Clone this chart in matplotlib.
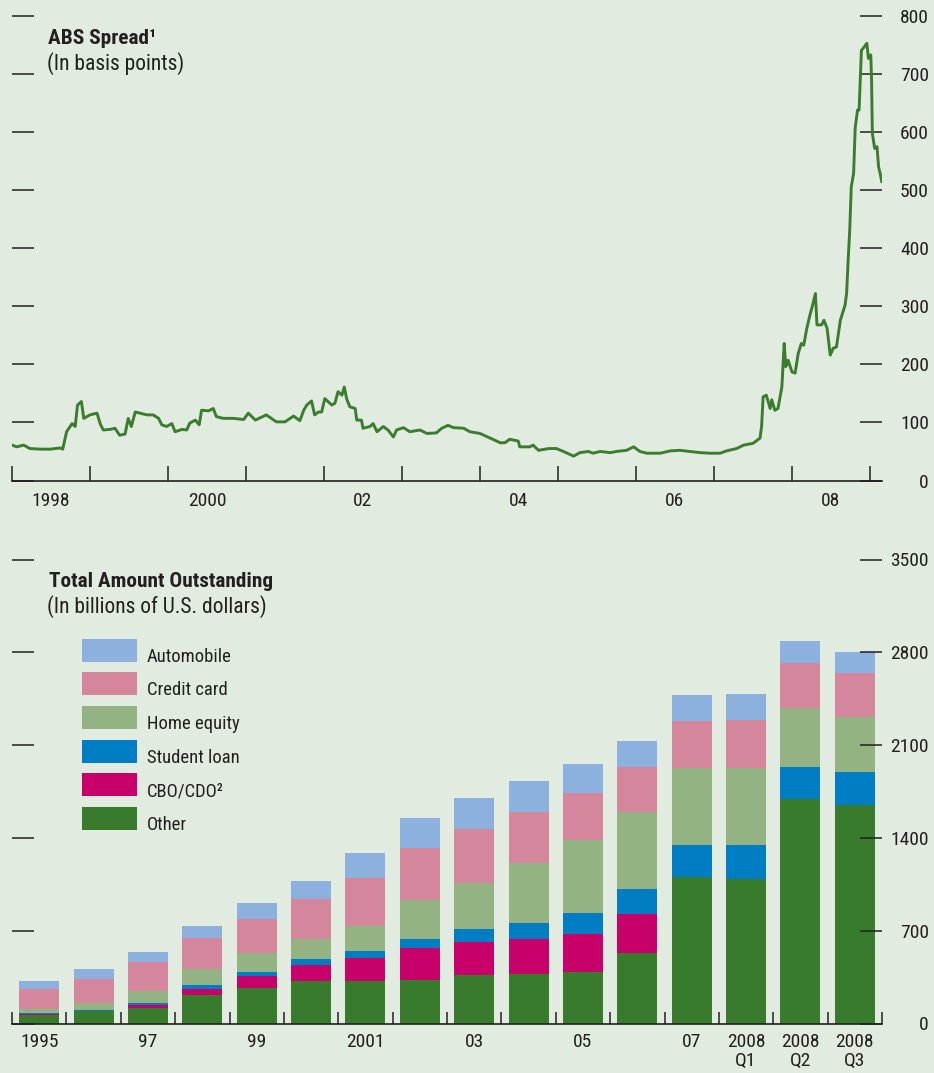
import matplotlib.pyplot as plt
from matplotlib.patches import Rectangle

plt.rcParams['font.family'] = ['Roboto Condensed', 'Liberation Sans Narrow', 'Roboto', 'DejaVu Sans']

bg = '#e2ebe0'
ink = '#231f20'

# ABS spread, basis points (fractional years)
spread_t = [1998.00, 1998.06, 1998.15, 1998.23, 1998.36, 1998.49, 1998.62, 1998.65, 1998.70, 1998.77,
            1998.81, 1998.84, 1998.89, 1998.92, 1999.00, 1999.09, 1999.13, 1999.17, 1999.26, 1999.32,
            1999.38, 1999.45, 1999.49, 1999.53, 1999.58, 1999.64, 1999.73, 1999.81, 1999.88, 1999.92,
            1999.98, 2000.05, 2000.09, 2000.18, 2000.24, 2000.28, 2000.35, 2000.40, 2000.43, 2000.52,
            2000.58, 2000.62, 2000.71, 2000.84, 2000.97, 2001.03, 2001.12, 2001.26, 2001.39, 2001.50,
            2001.61, 2001.69,
            2001.74, 2001.78, 2001.84, 2001.88, 2001.93, 2001.97, 2002.01, 2002.10, 2002.14, 2002.18,
            2002.23, 2002.26, 2002.29, 2002.33, 2002.40, 2002.42, 2002.48, 2002.50, 2002.59, 2002.63,
            2002.68, 2002.76, 2002.82, 2002.89, 2002.93, 2003.02, 2003.10, 2003.23, 2003.32, 2003.44,
            2003.51, 2003.59, 2003.66, 2003.79, 2003.87, 2004.00, 2004.13, 2004.26, 2004.32, 2004.38,
            2004.49, 2004.51, 2004.64, 2004.68, 2004.75, 2004.88, 2004.98, 2005.07, 2005.20, 2005.28,
            2005.39, 2005.45, 2005.54,
            2005.67, 2005.75, 2005.88, 2005.97, 2006.05, 2006.14, 2006.31, 2006.44, 2006.56, 2006.69,
            2006.82, 2006.95, 2007.08, 2007.16, 2007.29, 2007.38, 2007.50, 2007.59, 2007.61, 2007.63,
            2007.67, 2007.72, 2007.74, 2007.78, 2007.82, 2007.87, 2007.90, 2007.92, 2007.95, 2008.00,
            2008.04, 2008.08, 2008.12, 2008.15, 2008.19, 2008.23, 2008.27, 2008.30, 2008.32, 2008.38,
            2008.41, 2008.45, 2008.49, 2008.53, 2008.57, 2008.62, 2008.68, 2008.70, 2008.72, 2008.74,
            2008.76, 2008.79, 2008.81, 2008.84, 2008.86, 2008.89, 2008.91, 2008.96, 2008.98, 2009.01,
            2009.02, 2009.03, 2009.06, 2009.09, 2009.11, 2009.13, 2009.15]
spread_v = [61, 58, 61, 55, 54, 54, 56, 54, 84, 98,
            93, 130, 136, 107, 113, 116, 98, 87, 88, 90,
            78, 80, 107, 93, 118, 116, 113, 113, 107, 96,
            93, 98, 84, 88, 87, 99, 104, 96, 121, 120,
            124, 110, 107, 107, 105, 116, 104, 113, 101, 101,
            111, 103,
            121, 130, 137, 113, 118, 118, 141, 130, 133, 153,
            147, 161, 141, 127, 124, 104, 104, 90, 93, 98,
            84, 93, 87, 75, 87, 91, 84, 87, 81, 82,
            90, 95, 91, 90, 84, 81, 73, 65, 65, 71,
            68, 58, 58, 61, 52, 55, 55, 50, 42, 48,
            50, 47, 50,
            48, 50, 52, 58, 50, 47, 47, 51, 52, 50,
            48, 47, 47, 51, 55, 61, 64, 73, 93, 144,
            147, 124, 139, 121, 124, 161, 236, 196, 207, 187,
            185, 219, 236, 233, 262, 285, 305, 322, 268, 268,
            276, 262, 216, 228, 230, 276, 302, 322, 380, 431,
            506, 529, 607, 638, 638, 741, 744, 753, 727, 733,
            690, 598, 572, 575, 540, 529, 515]

# Total amount outstanding, billions of U.S. dollars
periods = ['1995', '', '97', '', '99', '', '2001', '', '03', '', '05', '', '07',
           '2008\nQ1', '2008\nQ2', '2008\nQ3']
other = [64, 97, 119, 215, 270, 321, 321, 331, 366, 376, 391, 532, 1103, 1092, 1696, 1648]
cbo_cdo = [10, 0, 18, 45, 91, 120, 175, 241, 251, 261, 286, 296, 0, 0, 0, 0]
student = [3, 7, 18, 30, 30, 46, 51, 65, 96, 121, 157, 187, 243, 254, 239, 249]
home = [32, 53, 90, 121, 141, 150, 191, 297, 347, 453, 552, 583, 584, 584, 447, 415]
credit = [151, 179, 221, 236, 256, 302, 362, 392, 407, 387, 353, 337, 352, 362, 337, 332]
auto = [60, 75, 73, 88, 121, 136, 186, 224, 234, 231, 218, 196, 196, 193, 166, 158]

series = [('Other', other, '#387b2c'),
          ('CBO/CDO²', cbo_cdo, '#c8006a'),
          ('Student loan', student, '#007dc3'),
          ('Home equity', home, '#93b382'),
          ('Credit card', credit, '#d4879c'),
          ('Automobile', auto, '#8cb1df')]

W, H = 934, 1073
fig = plt.figure(figsize=(W / 100, H / 100), dpi=100, facecolor=bg)


def px_axes(x0, y0, x1, y1):
    return fig.add_axes([x0 / W, 1 - y1 / H, (x1 - x0) / W, (y1 - y0) / H], facecolor=bg)


def style(ax):
    for s in ['top', 'left', 'right']:
        ax.spines[s].set_visible(False)
    ax.spines['bottom'].set_color(ink)
    ax.spines['bottom'].set_linewidth(1.2)
    ax.tick_params(axis='y', which='major', left=True, right=True, labelleft=False, labelright=True,
                   direction='in', length=15.8, width=1.1, color=ink, labelsize=14,
                   labelcolor=ink, pad=33.8)
    ax.tick_params(axis='x', which='major', direction='in', length=11, width=1.1, color=ink,
                   labelbottom=False)
    ax.tick_params(axis='x', which='minor', length=0, labelsize=14, labelcolor=ink)
    for t in ax.yaxis.get_major_ticks():
        t.label2.set_horizontalalignment('right')


# top panel: spread line
ax1 = px_axes(12, 16, 882, 480.5)
ax1.plot(spread_t, spread_v, color='#3a7d2c', lw=2.1, solid_joinstyle='round')
ax1.set_xlim(1998.0, 1998.0 + 870 / 78)
ax1.set_ylim(0, 800)
ax1.set_yticks(range(0, 801, 100))
ax1.set_xticks(range(1998, 2010))
ax1.set_xticks([1998.5, 2000.5, 2002.5, 2004.5, 2006.5, 2008.5], minor=True)
ax1.set_xticklabels(['1998', '2000', '02', '04', '06', '08'], minor=True)
style(ax1)
ax1.tick_params(axis='x', which='minor', pad=8)

fig.text(48 / W, 1 - 43.7 / H, 'ABS Spread¹', fontsize=15.3, fontweight='bold', color=ink,
         va='baseline')
fig.text(47 / W, 1 - 69.5 / H, '(In basis points)', fontsize=15.5, color=ink, va='baseline')

# bottom panel: stacked bars
ax2 = px_axes(12, 559.5, 882, 1023.5)
xs = list(range(len(periods)))
base = [0] * len(periods)
for name, vals, col in series:
    ax2.bar(xs, vals, bottom=base, width=0.736, color=col, linewidth=0)
    base = [b + v for b, v in zip(base, vals)]
ax2.set_xlim(-0.5, 15.5)
ax2.set_ylim(0, 3500)
ax2.set_yticks(range(0, 3501, 700))
ax2.set_xticks([i - 0.5 for i in range(len(periods) + 1)])
ax2.set_xticks(xs, minor=True)
ax2.set_xticklabels(periods, minor=True, linespacing=1.1)
style(ax2)
ax2.tick_params(axis='x', which='major', length=8.5)
ax2.tick_params(axis='x', which='minor', pad=6.5)

fig.text(49 / W, 1 - 586.7 / H, 'Total Amount Outstanding', fontsize=15.3, fontweight='bold',
         color=ink, va='baseline')
fig.text(47 / W, 1 - 612.7 / H, '(In billions of U.S. dollars)', fontsize=15.5, color=ink,
         va='baseline')

# legend drawn as boxes + labels
leg_top = [639, 672, 706, 740, 773, 807]
for (name, vals, col), top in zip(series[::-1], leg_top):
    fig.add_artist(Rectangle((82 / W, 1 - (top + 23) / H), 55 / W, 23 / H,
                             transform=fig.transFigure, color=col, lw=0))
    fig.text(147 / W, 1 - (top + 23) / H, name, fontsize=13.4, color=ink, va='baseline')

fig.savefig('out.png', dpi=100, facecolor=bg)
